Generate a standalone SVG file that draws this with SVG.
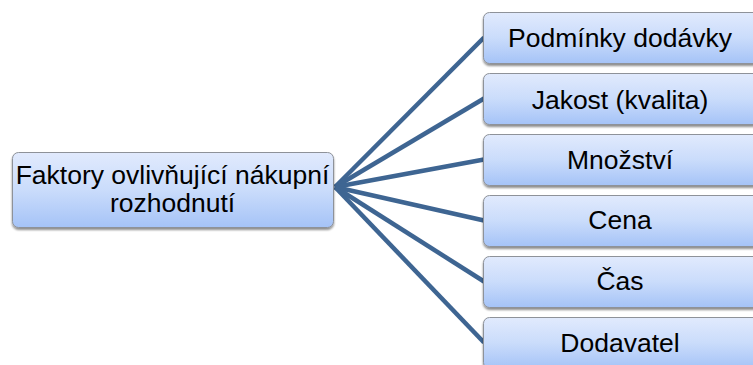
<svg xmlns="http://www.w3.org/2000/svg" width="753" height="365" viewBox="0 0 753 365">
  <defs>
    <linearGradient id="boxFill" x1="0" y1="0" x2="0" y2="1">
      <stop offset="0" stop-color="#e1eafd"/>
      <stop offset="0.5" stop-color="#cadcfb"/>
      <stop offset="1" stop-color="#a5c3f7"/>
    </linearGradient>
    <filter id="shadow" x="-10%" y="-20%" width="120%" height="150%">
      <feGaussianBlur in="SourceAlpha" stdDeviation="1.2"/>
      <feOffset dx="0" dy="2" result="b"/>
      <feComponentTransfer><feFuncA type="linear" slope="0.45"/></feComponentTransfer>
      <feMerge><feMergeNode/><feMergeNode in="SourceGraphic"/></feMerge>
    </filter>
  </defs>
  <style>
    .box { fill: url(#boxFill); stroke: #8e9299; stroke-width: 1; filter: url(#shadow); }
    .lbl { font-family: "Liberation Sans", Arial, sans-serif; font-size: 26.5px; fill: #000; text-anchor: middle; }
    .link { stroke: #3e6592; stroke-width: 4.5; fill: none; stroke-linecap: butt; }
  </style>

  <!-- connectors fanning out from the root node -->
  <g id="connectors">
    <line class="link" x1="335" y1="187" x2="484" y2="37.5"/>
    <line class="link" x1="335" y1="187" x2="484" y2="98.5"/>
    <line class="link" x1="335" y1="187" x2="484" y2="159.5"/>
    <line class="link" x1="335" y1="187" x2="484" y2="220.5"/>
    <line class="link" x1="335" y1="187" x2="484" y2="281.5"/>
    <line class="link" x1="335" y1="187" x2="484" y2="342.5"/>
  </g>

  <g id="root">
    <rect class="box" x="12.5" y="152.5" width="321" height="75" rx="6"/>
    <text class="lbl" x="172.5" y="184">Faktory ovlivňující nákupní</text>
    <text class="lbl" x="172.5" y="212">rozhodnutí</text>
  </g>

  <g id="n1">
    <rect class="box" x="483.5" y="12.5" width="276" height="51" rx="6"/>
    <text class="lbl" x="620" y="47">Podmínky dodávky</text>
  </g>
  <g id="n2">
    <rect class="box" x="483.5" y="73.5" width="276" height="51" rx="6"/>
    <text class="lbl" x="620" y="109">Jakost (kvalita)</text>
  </g>
  <g id="n3">
    <rect class="box" x="483.5" y="134.5" width="276" height="51" rx="6"/>
    <text class="lbl" x="620" y="169">Množství</text>
  </g>
  <g id="n4">
    <rect class="box" x="483.5" y="195.5" width="276" height="51" rx="6"/>
    <text class="lbl" x="620" y="229">Cena</text>
  </g>
  <g id="n5">
    <rect class="box" x="483.5" y="256.5" width="276" height="51" rx="6"/>
    <text class="lbl" x="620" y="290">Čas</text>
  </g>
  <g id="n6">
    <rect class="box" x="483.5" y="317.5" width="276" height="51" rx="6"/>
    <text class="lbl" x="620" y="352">Dodavatel</text>
  </g>
</svg>
